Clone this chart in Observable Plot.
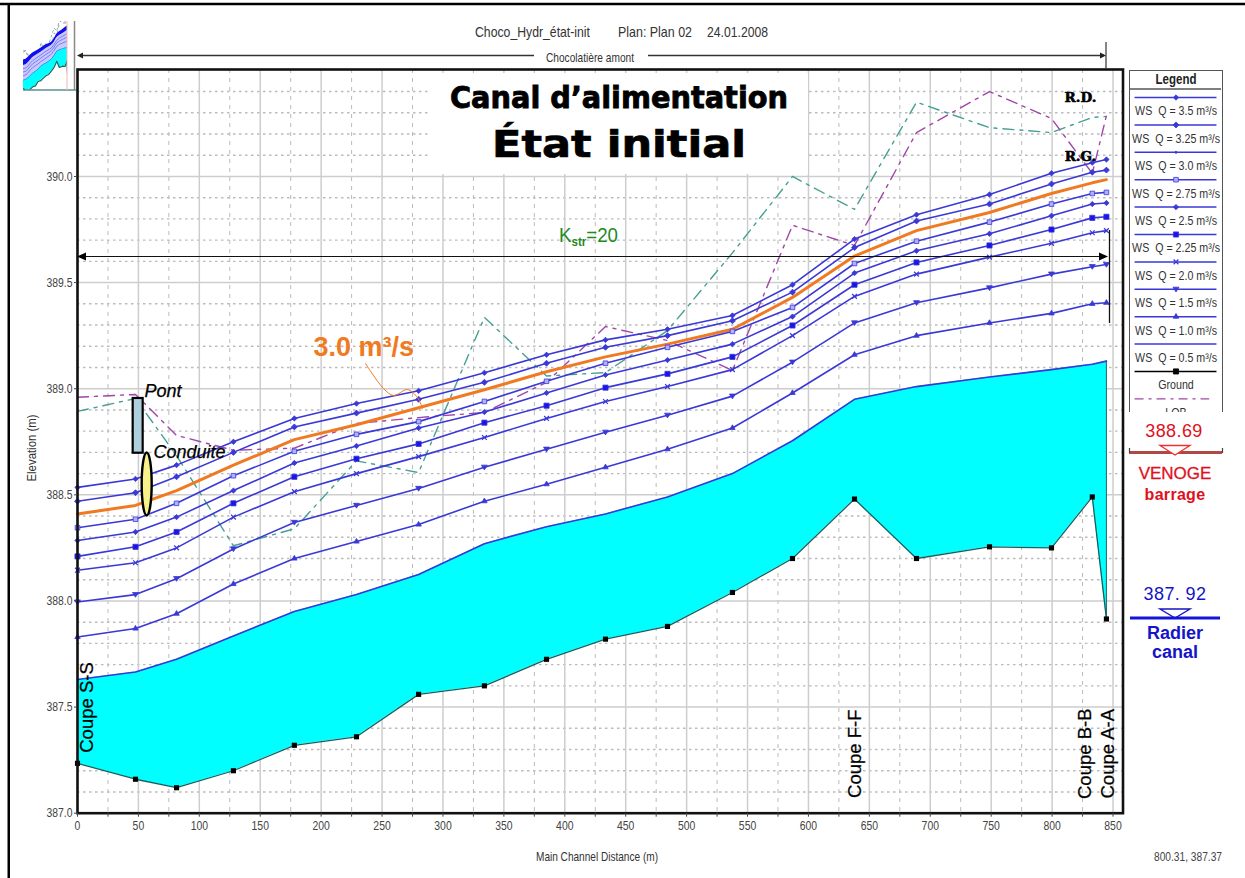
<!DOCTYPE html>
<html><head><meta charset="utf-8">
<script src="https://cdn.jsdelivr.net/npm/d3@7"></script>
<script src="https://cdn.jsdelivr.net/npm/@observablehq/plot@0.6"></script>
<style>
html,body{margin:0;padding:0;background:#fff}
#page{position:relative;width:1245px;height:878px;overflow:hidden;background:#fff}
#main,#inset,#legend,#over{position:absolute}
#main{left:0;top:0}
#inset{left:23px;top:21px}
#legend{left:1129px;top:70px;width:94px;height:342px;border:solid #555;border-width:1.5px 1.5px 0 1.5px;box-sizing:border-box;overflow:hidden;background:#fff}
#over{left:0;top:0;pointer-events:none}
.n,.a{font-family:"Liberation Sans",sans-serif}
</style></head>
<body><div id="page">
<div id="main"></div><div id="inset"></div><div id="legend"></div>
<svg id="over" width="1245" height="878">
 <rect x="428" y="73" width="380" height="101" fill="#fff"/>
 <line x1="0" x2="1245" y1="4" y2="4" stroke="#000" stroke-width="2.5"/>
 <line x1="8.75" x2="8.75" y1="4" y2="878" stroke="#000" stroke-width="2.5"/>
 <line x1="74.5" x2="74.5" y1="21" y2="90" stroke="#888" stroke-width="1.5"/>
 <line x1="23" x2="76" y1="90" y2="90" stroke="#5a9090" stroke-width="1.5"/>
 <line x1="67" x2="67" y1="21" y2="90" stroke="#f0b8b8" stroke-width="1"/>
 <text class="n" x="475" y="37" font-size="14.5" fill="#333" textLength="115" lengthAdjust="spacingAndGlyphs">Choco_Hydr_état-init</text>
 <text class="n" x="618" y="37" font-size="14.5" fill="#333" textLength="74" lengthAdjust="spacingAndGlyphs">Plan: Plan 02</text>
 <text class="n" x="707" y="37" font-size="14.5" fill="#333" textLength="61" lengthAdjust="spacingAndGlyphs">24.01.2008</text>
 <line x1="80" x2="1104" y1="55.5" y2="55.5" stroke="#333" stroke-width="1.3"/>
 <polygon points="77,55.5 83,52.5 83,58.5" fill="#222"/>
 <polygon points="1106,55.5 1100,52.5 1100,58.5" fill="#222"/>
 <line x1="1106" x2="1106" y1="42" y2="69" stroke="#333" stroke-width="1.2"/>
 <rect x="534" y="50" width="114" height="12" fill="#fff"/>
 <text class="n" x="546" y="62" font-size="13" fill="#333" textLength="88" lengthAdjust="spacingAndGlyphs">Chocolatière amont</text>
 <text x="450" y="108" font-family="DejaVu Sans" font-weight="700" font-size="31" fill="#000" stroke="#000" stroke-width="0.9" textLength="338" lengthAdjust="spacingAndGlyphs">Canal d’alimentation</text>
 <text x="492" y="157" font-family="DejaVu Sans" font-weight="700" font-size="38" fill="#000" stroke="#000" stroke-width="0.7" textLength="254" lengthAdjust="spacingAndGlyphs">État initial</text>
 <line x1="80" x2="1105" y1="256.5" y2="256.5" stroke="#111" stroke-width="1.2"/>
 <polygon points="77,256.5 86,252.5 86,260.5" fill="#000"/>
 <polygon points="1108,256.5 1099,252.5 1099,260.5" fill="#000"/>
 <line x1="1109.5" x2="1109.5" y1="230" y2="323" stroke="#111" stroke-width="1.3"/>
 <text class="n" x="559" y="242" font-size="21" fill="#1f8a1f" textLength="59" lengthAdjust="spacingAndGlyphs">K<tspan font-size="13" font-weight="700" dy="4">str</tspan><tspan dy="-4">=20</tspan></text>
 <text class="n" x="32" y="448" font-size="12" fill="#333" text-anchor="middle" transform="rotate(-90 32 448)" dy="4" textLength="67" lengthAdjust="spacingAndGlyphs">Elevation (m)</text>
 <text class="n" x="536" y="861" font-size="13" fill="#333" textLength="122" lengthAdjust="spacingAndGlyphs">Main Channel Distance (m)</text>
 <text class="n" x="1154" y="861" font-size="13.5" fill="#444" textLength="68" lengthAdjust="spacingAndGlyphs">800.31, 387.37</text>
 <text class="a" x="1174" y="437" font-size="18" letter-spacing=".4" fill="#e01020" text-anchor="middle">388.69</text>
 <line x1="1129" x2="1222" y1="452.5" y2="452.5" stroke="#b04848" stroke-width="3"/>
 <path d="M1129.5 448V453M1222.5 448V453" stroke="#444" stroke-width="1.2"/>
 <polygon points="1160,445.5 1190,445.5 1175,455" fill="#fff" stroke="#ee3030" stroke-width="1.3"/>
 <text class="a" x="1175" y="479" font-size="17" fill="#e01020" stroke="#e01020" stroke-width=".3" text-anchor="middle">VENOGE</text>
 <text class="a" x="1175" y="500" font-size="16" font-weight="700" letter-spacing=".3" fill="#e01020" text-anchor="middle">barrage</text>
 <text class="a" x="1175" y="600" font-size="18" letter-spacing=".4" fill="#1414c8" text-anchor="middle">387. 92</text>
 <polygon points="1160,609 1190,609 1175,618" fill="#fff" stroke="#1414c8" stroke-width="1.4"/>
 <line x1="1130" x2="1220" y1="618" y2="618" stroke="#1414d8" stroke-width="3"/>
 <text class="a" x="1175" y="639" font-size="18" font-weight="700" fill="#1414c8" text-anchor="middle">Radier</text>
 <text class="a" x="1175" y="658" font-size="18" font-weight="700" fill="#1414c8" text-anchor="middle">canal</text>
</svg>
</div>
<script>
const stations=[0,47.6,81.3,128,178,229,280,334,385,433.4,484.3,537.6,586.9,637.8,688.7,748.6,799.5,833,844.6];
const ground=[387.235,387.16,387.12,387.2,387.32,387.36,387.56,387.6,387.725,387.82,387.88,388.04,388.2,388.48,388.2,388.255,388.25,388.49,387.915];
const ws050=[387.63,387.665,387.725,387.835,387.95,388.03,388.125,388.27,388.35,388.41,388.49,388.6,388.755,388.95,389.01,389.055,389.09,389.115,389.13];
const ws100=[387.83,387.87,387.94,388.08,388.2,388.28,388.36,388.47,388.55,388.63,388.715,388.815,388.98,389.16,389.25,389.31,389.355,389.4,389.405];
const ws150=[387.995,388.03,388.105,388.245,388.37,388.45,388.53,388.63,388.715,388.795,388.875,388.965,389.125,389.31,389.405,389.475,389.54,389.575,389.585];
const ws200=[388.145,388.18,388.25,388.395,388.515,388.6,388.68,388.77,388.86,388.94,389.01,389.09,389.25,389.435,389.54,389.62,389.685,389.735,389.745];
const ws225=[388.21,388.255,388.325,388.46,388.585,388.67,388.74,388.84,388.92,389.005,389.07,389.15,389.298,389.49,389.595,389.675,389.75,389.805,389.81];
const ws250=[388.285,388.325,388.395,388.52,388.65,388.73,388.815,388.89,388.98,389.065,389.135,389.21,389.34,389.545,389.65,389.73,389.815,389.87,389.875];
const ws275=[388.345,388.385,388.46,388.59,388.705,388.785,388.845,388.94,389.035,389.12,389.195,389.27,389.383,389.59,389.695,389.785,389.87,389.92,389.925];
const ws300=[388.41,388.45,388.52,388.64,388.76,388.83,388.91,388.995,389.08,389.15,389.21,389.28,389.43,389.625,389.745,389.83,389.92,389.97,389.985];
const ws325=[388.47,388.51,388.585,388.7,388.82,388.885,388.95,389.03,389.12,389.195,389.25,389.32,389.455,389.665,389.79,389.87,389.965,390.02,390.03];
const ws350=[388.535,388.575,388.64,388.75,388.86,388.93,388.99,389.075,389.16,389.23,389.28,389.345,389.49,389.705,389.82,389.915,390.015,390.065,390.08];
const lob=[388.96,388.973,388.78,388.71,388.72,388.836,388.864,388.888,389.03,389.293,389.227,389.086,389.77,389.675,390.207,390.4,390.273,390.014,390.287];
const rob=[388.893,388.954,388.685,388.26,388.34,388.66,388.605,389.336,389.06,389.076,389.274,389.64,390,389.845,390.35,390.23,390.207,390.278,390.283];
const calloutX=[236.4,251.2,259.4,270.9,279.1,283.2];
const calloutY=[389.119,389.001,388.968,388.996,388.958,388.907];

const BLUE="#3a38d6",ORANGE="#f07a22",PURPLE="#a245a8",TEAL="#45a093",DASH="11,6,3,6";
const triDown={draw(c,s){const r=Math.sqrt(s/Math.PI)*1.15;c.moveTo(-r,-r*.7);c.lineTo(r,-r*.7);c.lineTo(0,r*.9);c.closePath();}};
const wsSeries=[
 {label:"WS  Q = 3.5 m³/s",ys:ws350,symbol:"diamond2",r:2.4,fill:BLUE},
 {label:"WS  Q = 3.25 m³/s",ys:ws325,symbol:"diamond2",r:2.7,fill:BLUE},
 {label:"WS  Q = 3.0 m³/s",ys:ws300,symbol:"diamond2",r:1.2,fill:BLUE,orange:true},
 {label:"WS  Q = 2.75 m³/s",ys:ws275,symbol:"square",r:2.6,fill:"#b0b0ff"},
 {label:"WS  Q = 2.5 m³/s",ys:ws250,symbol:"diamond2",r:2.4,fill:BLUE},
 {label:"WS  Q = 2.25 m³/s",ys:ws225,symbol:"square",r:2.9,fill:"#1a14e8"},
 {label:"WS  Q = 2.0 m³/s",ys:ws200,symbol:"times",r:2.3,fill:"none"},
 {label:"WS  Q = 1.5 m³/s",ys:ws150,symbol:triDown,r:2.6,fill:BLUE},
 {label:"WS  Q = 1.0 m³/s",ys:ws100,symbol:"triangle2",r:2.6,fill:BLUE},
 {label:"WS  Q = 0.5 m³/s",ys:ws050,symbol:null,r:0,fill:"none"}
];
const pts=ys=>stations.map((x,i)=>({x,y:ys[i]}));
const water=stations.map((x,i)=>({x,g:ground[i],w:ws050[i]}));
const xMajor=d3.range(0,851,50),xMinor=d3.range(25,851,50);
const yMajor=d3.range(387,390.01,.5);
const yMinor=d3.range(387.1,390.41,.1).filter(v=>Math.abs(v*2-Math.round(v*2))>.01);
const FONT='"Liberation Sans",sans-serif';
const annotations=[
 {t:"Coupe S-S",x:8.2,y:387.498},{t:"Coupe F-F",x:638.6,y:387.28},
 {t:"Coupe B-B",x:827.4,y:387.28},{t:"Coupe A-A",x:846.2,y:387.28}];

const ellipse=(index,{x,y})=>d3.create("svg:ellipse").attr("cx",x(57.2)).attr("cy",y(388.549)).attr("rx",5).attr("ry",31.5)
  .attr("fill","#f8f088").attr("stroke","#000").attr("stroke-width",2.4).node();

// Condense text to the narrow look of the original application font.
const condense=(nodes,k)=>nodes.forEach(t=>{
  t.setAttribute("textLength",(t.getComputedTextLength()*k).toFixed(1));
  t.setAttribute("lengthAdjust","spacingAndGlyphs");
});
// Same effect as a real horizontal scale around the centre of the text.
const squeeze=(nodes,k)=>nodes.forEach(t=>{
  const b=t.getBBox(),cx=b.x+b.width/2,old=t.getAttribute("transform")||"";
  t.setAttribute("transform",`${old} translate(${cx},0) scale(${k},1) translate(${-cx},0)`.trim());
});

const mainEl=document.getElementById("main");
mainEl.append(Plot.plot({
 width:1245,height:878,marginLeft:77,marginRight:122.5,marginTop:69,marginBottom:65.3,
 style:{background:"transparent",fontFamily:FONT,fontSize:"13px",color:"#444"},
 x:{domain:[0,858.2]},y:{domain:[387,390.504]},
 marks:[
  Plot.ruleX(xMinor,{stroke:"#bbb",strokeWidth:1,strokeDasharray:"4,5"}),
  Plot.ruleY(yMinor,{stroke:"#bbb",strokeWidth:1.4,strokeDasharray:"2.5,3.5"}),
  Plot.ruleX(xMajor,{stroke:"#cdcdcd",strokeWidth:1.5}),
  Plot.ruleY(yMajor,{stroke:"#cdcdcd",strokeWidth:1.5}),
  Plot.areaY(water,{x:"x",y1:"g",y2:"w",fill:"#00ffff"}),
  Plot.ruleX([844.6],{y1:387.915,y2:389.13,stroke:"#1f7a78",strokeWidth:1.2}),
  Plot.line(pts(rob),{x:"x",y:"y",stroke:TEAL,strokeWidth:1.4,strokeDasharray:DASH}),
  Plot.line(pts(lob),{x:"x",y:"y",stroke:PURPLE,strokeWidth:1.4,strokeDasharray:DASH}),
  ...wsSeries.flatMap(s=>[
    Plot.line(pts(s.ys),{x:"x",y:"y",stroke:s.orange?ORANGE:BLUE,strokeWidth:s.orange?3:1.6}),
    ...(s.symbol&&!s.orange?[Plot.dot(pts(s.ys),{x:"x",y:"y",symbol:s.symbol,r:s.r,fill:s.fill,stroke:BLUE,strokeWidth:s.fill==="none"?1.2:.8})]:[])
  ]),
  Plot.line(pts(ground),{x:"x",y:"y",stroke:"#15605e",strokeWidth:1.3}),
  Plot.dot(pts(ground),{x:"x",y:"y",symbol:"square",r:2.9,fill:"#000"}),
  Plot.line(calloutX.map((x,i)=>({x,y:calloutY[i]})),{x:"x",y:"y",stroke:ORANGE,strokeWidth:1,curve:"catmull-rom"}),
  Plot.rect([{x1:45.7,x2:53.9,y1:388.696,y2:388.954}],{x1:"x1",x2:"x2",y1:"y1",y2:"y2",fill:"#add0dc",stroke:"#000",strokeWidth:2.2}),
  ellipse,
  Plot.text(["Pont"],{x:55,y:388.987,text:d=>d,textAnchor:"start",fontStyle:"italic",fontSize:18,fontFamily:"Liberation Sans",fill:"#000",stroke:"#000",strokeWidth:.25}),
  Plot.text(["Conduite"],{x:62.4,y:388.7,text:d=>d,textAnchor:"start",fontStyle:"italic",fontSize:18,fontFamily:"Liberation Sans",fill:"#000",stroke:"#000",strokeWidth:.25}),
  Plot.text(["3.0 m³/s"],{x:193.7,y:389.194,text:d=>d,textAnchor:"start",fontWeight:700,fontSize:27,fontFamily:"Liberation Sans",fill:ORANGE}),
  Plot.text(annotations,{x:"x",y:"y",text:"t",rotate:-90,fontSize:18.5,fontFamily:"Liberation Sans",fill:"#000",stroke:"#000",strokeWidth:.25}),
  Plot.text(["R.D."],{x:823.3,y:390.372,text:d=>d,fontWeight:700,fontSize:13.5,fontFamily:"DejaVu Serif",fill:"#000",stroke:"#000",strokeWidth:.6}),
  Plot.text(["R.G."],{x:823.3,y:390.094,text:d=>d,fontWeight:700,fontSize:13.5,fontFamily:"DejaVu Serif",fill:"#000",stroke:"#000",strokeWidth:.6}),
  Plot.frame({stroke:"#111",strokeWidth:2.6}),
  Plot.axisX(xMajor,{anchor:"bottom",tickSize:4,tickPadding:4,label:null,tickFormat:d=>d,stroke:"#444",fill:"#444"}),
  Plot.axisX(xMinor,{anchor:"bottom",tickSize:4,label:null,tickFormat:()=>"",stroke:"#444"}),
  Plot.axisY(yMajor,{anchor:"left",tickSize:3,tickPadding:2,label:null,tickFormat:d3.format(".1f"),stroke:"#444",fill:"#444"})
 ]
}));
condense([...mainEl.querySelectorAll('g[aria-label="x-axis tick label"] text, g[aria-label="y-axis tick label"] text')].filter(t=>t.textContent),.8);

document.getElementById("inset").append(Plot.plot({
 width:44,height:69,margin:0,
 style:{background:"#fff",overflow:"hidden"},
 x:{domain:[0,844.6],axis:null},y:{domain:[387.15,390.29],axis:null},
 marks:[
  Plot.line(pts(rob),{x:"x",y:"y",stroke:TEAL,strokeWidth:.7,strokeDasharray:"2,3"}),
  Plot.line(pts(lob),{x:"x",y:"y",stroke:PURPLE,strokeWidth:.6,strokeDasharray:"2,4"}),
  Plot.areaY(water,{x:"x",y1:"g",y2:"w",fill:"#00ffff"}),
  Plot.areaY(stations.map((x,i)=>({x,a:ws050[i],b:ws250[i]})),{x:"x",y1:"a",y2:"b",fill:"#c8c8ff"}),
  Plot.areaY(stations.map((x,i)=>({x,a:ws250[i],b:ws350[i]})),{x:"x",y1:"a",y2:"b",fill:"#1010ee"}),
  ...[ws050,ws100,ws150,ws200].map(ys=>Plot.line(pts(ys),{x:"x",y:"y",stroke:"#6a6af0",strokeWidth:.8})),
  Plot.line(pts(ground),{x:"x",y:"y",stroke:"#0f6a60",strokeWidth:1.2})
 ]
}));

const legendRows=[
 ...wsSeries.map((s,i)=>({i,label:s.label,stroke:BLUE,symbol:s.symbol,r:s.r,fill:s.fill})),
 {i:10,label:"Ground",stroke:"#000",symbol:"square",r:2.9,fill:"#000"},
 {i:11,label:"LOB",stroke:PURPLE,dash:true}
];
const solid=legendRows.filter(d=>!d.dash);
const legEl=document.getElementById("legend");
legEl.append(Plot.plot({
 width:91,height:340.5,margin:0,
 style:{background:"#fff",fontFamily:FONT,overflow:"hidden",color:"#333"},
 x:{domain:[0,1],axis:null},y:{domain:[-.95,11.48],range:[0,340.5],axis:null},
 marks:[
  Plot.ruleY([-.31],{stroke:"#555",strokeWidth:1.5}),
  Plot.text(["Legend"],{x:.5,y:-.675,text:d=>d,fontSize:14,fontWeight:700,fill:"#222"}),
  Plot.ruleY(solid,{y:"i",x1:.05,x2:.95,stroke:"stroke",strokeWidth:1.5}),
  Plot.ruleY(legendRows.filter(d=>d.dash),{y:"i",x1:.05,x2:.87,stroke:"stroke",strokeWidth:1.3,strokeDasharray:"9,5,3,5"}),
  ...solid.filter(d=>d.symbol).map(d=>Plot.dot([d],{x:.5,y:"i",symbol:d.symbol,r:d.r,fill:d.fill,stroke:d.stroke,strokeWidth:d.fill==="none"?1.2:.8})),
  Plot.text(legendRows,{x:.5,y:d=>d.i+.5,text:"label",fontSize:13,fill:"#333"})
 ]
}));
squeeze([...legEl.querySelectorAll("text")],.82);
</script>
</body></html>
